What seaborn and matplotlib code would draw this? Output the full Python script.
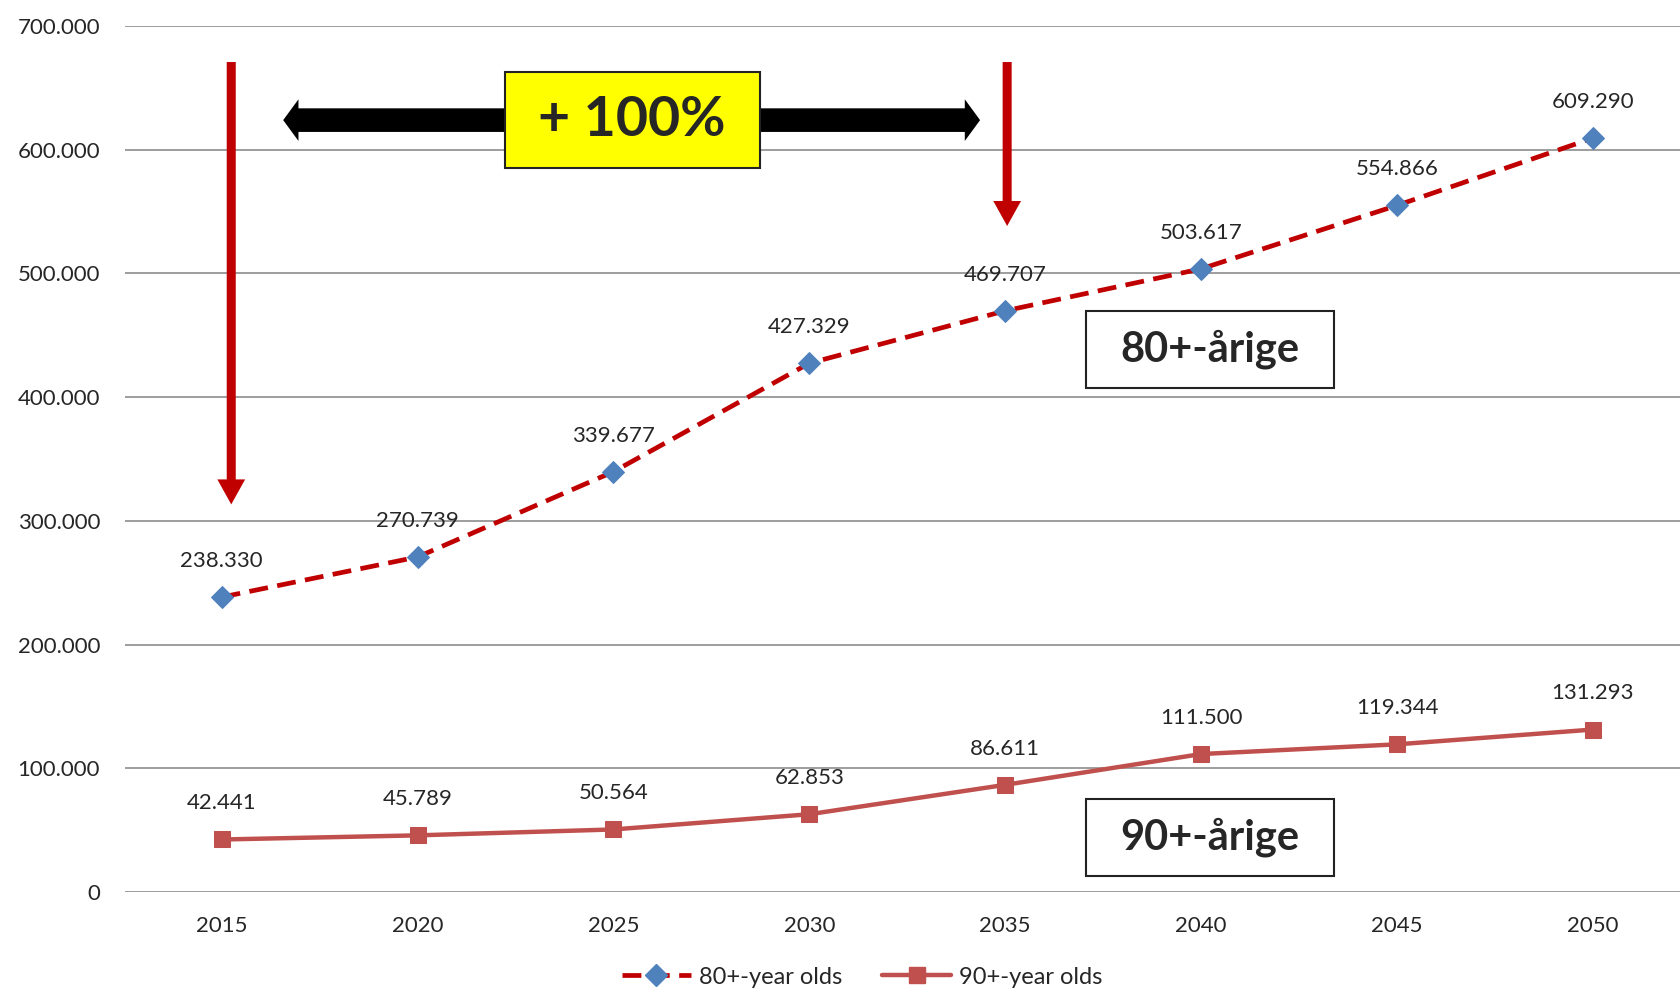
import matplotlib
matplotlib.use("Agg")
import matplotlib.pyplot as plt
from matplotlib.patches import Rectangle, FancyArrowPatch
from matplotlib.lines import Line2D
import pandas as pd
import seaborn as sns

# values
years = ['2015', '2020', '2025', '2030', '2035', '2040', '2045', '2050']
over_80 = [238330, 270739, 339677, 427329, 469707, 503617, 554866, 609290]
over_90 = [42441, 45789, 50564, 62853, 86611, 111500, 119344, 131293]
y_ticks = [0, 100000, 200000, 300000, 400000, 500000, 600000, 700000]

RED_DARK = '#C00000'
RED_SOFT = '#C0504D'
BLUE = '#4F81BD'


def fmt(v):
    return f"{v:,}".replace(',', '.')


sns.set_style('white')
plt.rcParams['font.family'] = ['Lato', 'DejaVu Sans']

df = pd.DataFrame({'year': years, 'over_80': over_80, 'over_90': over_90})

fig = plt.figure(figsize=(16.81, 9.94), dpi=100)
ax = fig.add_axes([0.0744, 0.1026, 0.9256, 0.8714])

sns.lineplot(data=df, x='year', y='over_80', ax=ax, color=RED_DARK, lw=3.4,
             marker='D', markersize=11, markerfacecolor=BLUE, markeredgecolor=BLUE,
             sort=False, zorder=3)
ax.lines[-1].set_dashes((4, 2))
sns.lineplot(data=df, x='year', y='over_90', ax=ax, color=RED_SOFT, lw=3.2,
             marker='s', markersize=12, markerfacecolor=RED_SOFT, markeredgecolor=RED_SOFT,
             sort=False, zorder=3)

for i, (a, b) in enumerate(zip(over_80, over_90)):
    ax.annotate(fmt(a), (i, a), xytext=(0, 26), textcoords='offset points',
                ha='center', va='center', fontsize=16)
    ax.annotate(fmt(b), (i, b), xytext=(0, 26), textcoords='offset points',
                ha='center', va='center', fontsize=16)

ax.set_xlim(-0.493, 7.45)
ax.set_ylim(0, 700000)
ax.set_yticks(y_ticks)
ax.set_yticklabels([fmt(v) for v in y_ticks])
ax.yaxis.grid(True, color='#8c8c8c', lw=1.2)
ax.xaxis.grid(False)
for s in ax.spines.values():
    s.set_visible(False)
ax.tick_params(axis='y', length=0, pad=18, labelsize=16)
ax.tick_params(axis='x', length=0, pad=17, labelsize=16)
ax.set_xlabel('')
ax.set_ylabel('')

# red vertical arrows
for x0, y0, y1 in [(0.049, 673000, 311000), (4.01, 673000, 536000)]:
    ax.add_patch(FancyArrowPatch((x0, y0), (x0, y1),
                                 arrowstyle='simple,head_length=1.8,head_width=2.0,tail_width=0.65',
                                 mutation_scale=10, color=RED_DARK, lw=0, zorder=4))

# black double arrow behind the yellow box
for x1 in (0.30, 3.886):
    ax.add_patch(FancyArrowPatch((2.1, 623800), (x1, 623800),
                                 arrowstyle='simple,head_length=1.1,head_width=3.0,tail_width=1.7',
                                 mutation_scale=10, color='black', lw=0, zorder=4))

ax.add_patch(Rectangle((1.445, 584800), 1.303, 77950, facecolor='#FFFF00',
                       edgecolor='#222222', lw=1.5, zorder=5))
ax.text(2.096, 623800, '+ 100%', ha='center', va='center', fontsize=40,
        fontweight='bold', zorder=6)

for y0, label in [(407200, '80+-årige'), (13000, '90+-årige')]:
    ax.add_patch(Rectangle((4.41, y0), 1.27, 62400, facecolor='white',
                           edgecolor='#222222', lw=1.5, zorder=5))
    ax.text(5.045, y0 + 31200, label, ha='center', va='center', fontsize=30,
            fontweight='bold', zorder=6)

handles = [
    Line2D([], [], color=RED_DARK, lw=3.4, dashes=(4, 2), marker='D', markersize=11,
           markerfacecolor=BLUE, markeredgecolor=BLUE),
    Line2D([], [], color=RED_SOFT, lw=3.2, marker='s', markersize=12,
           markerfacecolor=RED_SOFT, markeredgecolor=RED_SOFT),
]
fig.legend(handles, ['80+-year olds', '90+-year olds'], loc='center',
           bbox_to_anchor=(0.513, 0.017), ncol=2, frameon=False, fontsize=17,
           handlelength=2.9, handletextpad=0.35, columnspacing=1.7)

fig.savefig('out.png', dpi=100)
